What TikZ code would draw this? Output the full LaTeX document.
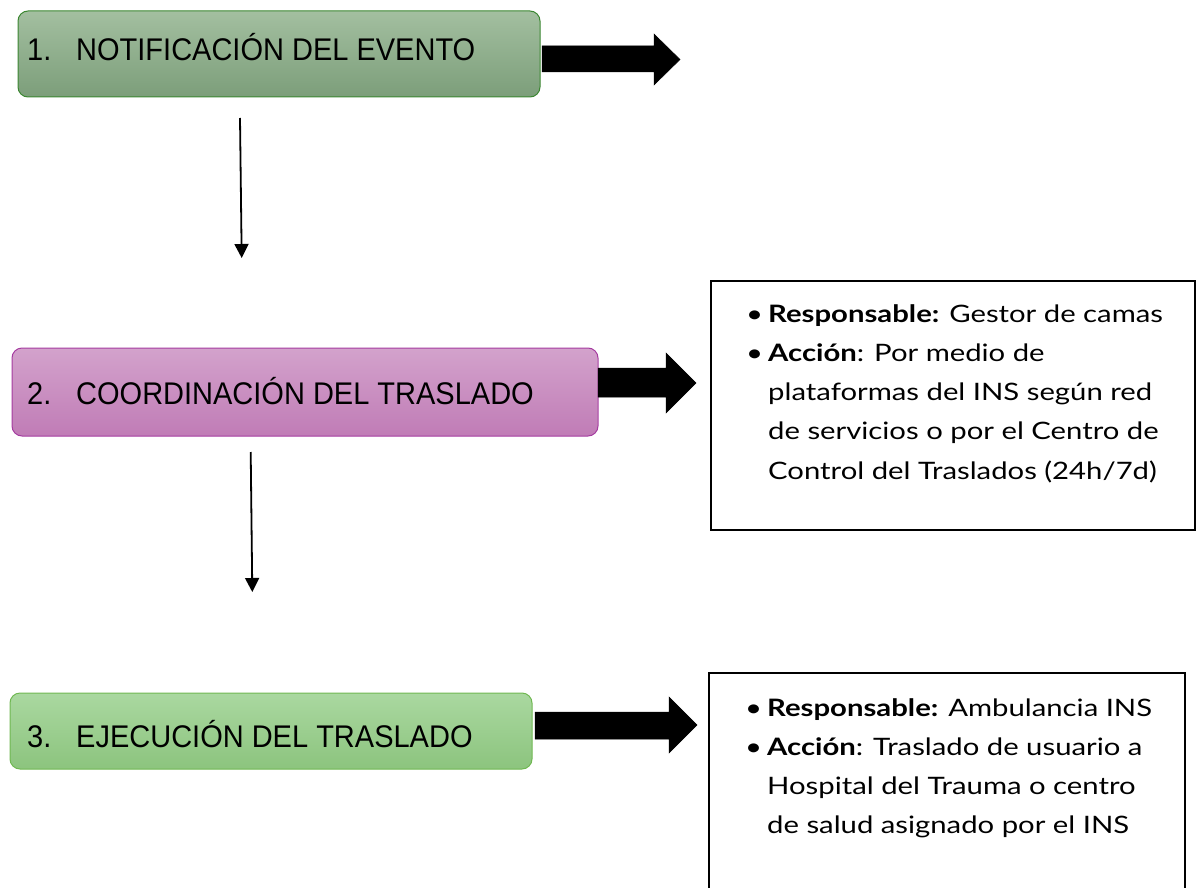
\documentclass[tikz,border=0pt]{standalone}
\usepackage{fontspec}
\setmainfont{Liberation Sans}
\newfontfamily\infofont[FakeStretch=1.22]{Lato}
\usetikzlibrary{arrows.meta}
\definecolor{gAtop}{RGB}{163,191,160}
\definecolor{gAbot}{RGB}{124,158,122}
\definecolor{gAbrd}{RGB}{60,135,50}
\definecolor{pBtop}{RGB}{211,162,204}
\definecolor{pBbot}{RGB}{192,124,182}
\definecolor{pBbrd}{RGB}{165,60,160}
\definecolor{gCtop}{RGB}{170,216,160}
\definecolor{gCbot}{RGB}{140,196,126}
\definecolor{gCbrd}{RGB}{112,184,82}
\tikzset{
  stagebox/.style={rounded corners=10pt, line width=1pt},
  stagetext/.style={anchor=base west, inner sep=0pt, yscale=1.08, transform shape, font=\fontsize{29}{34}\selectfont},
  blockarrow/.style={fill=black, draw=black, line width=0.5pt},
  flowarrow/.style={line width=1.8pt, -{Triangle[width=14pt,length=14pt]}},
  infobox/.style={draw=black, line width=1.5pt},
  infotext/.style={anchor=north west, inner sep=0pt, align=left,
    font=\infofont\fontsize{24}{39.25}\selectfont},
}
\newcommand{\bul}{\llap{\textbullet\hspace{5pt}}}
\begin{document}
\begin{tikzpicture}[x=1pt,y=-1pt]
\useasboundingbox (0,0) rectangle (1196,888);
% stage boxes
\draw[stagebox, draw=gAbrd, top color=gAtop, bottom color=gAbot] (18,11) rectangle (540,97);
\node[draw=none, minimum width=522pt, minimum height=86pt, anchor=north west, inner sep=0pt] (s1) at (18,11) {};
\draw[stagebox, draw=pBbrd, top color=pBtop, bottom color=pBbot] (12,348) rectangle (598,436);
\node[draw=none, minimum width=586pt, minimum height=88pt, anchor=north west, inner sep=0pt] (s2) at (12,348) {};
\draw[stagebox, draw=gCbrd, top color=gCtop, bottom color=gCbot] (10,693) rectangle (532,769);
\node[draw=none, minimum width=522pt, minimum height=76pt, anchor=north west, inner sep=0pt] (s3) at (10,693) {};
% stage texts
\node[stagetext] (n1) at (27,61) {1.};
\node[stagetext] (t1) at (76,61) {NOTIFICACIÓN DEL EVENTO};
\node[stagetext] (n2) at (27,404) {2.};
\node[stagetext] (t2) at (76,404) {COORDINACIÓN DEL TRASLADO};
\node[stagetext] (n3) at (27,747) {3.};
\node[stagetext] (t3) at (76,747) {EJECUCIÓN DEL TRASLADO};
% block arrows
\draw[blockarrow] (542,46) -- (654,46) -- (654,34) -- (680,59.5) -- (654,85) -- (654,72) -- (542,72) -- cycle;
\draw[blockarrow] (598,368) -- (666,368) -- (666,353) -- (696,383) -- (666,413) -- (666,397) -- (598,397) -- cycle;
\draw[blockarrow] (535,712) -- (669,712) -- (669,697) -- (697,725) -- (669,753) -- (669,739) -- (535,739) -- cycle;
% vertical arrows
\coordinate (a1s) at (240,118);
\coordinate (a1e) at (241.7,258);
\coordinate (a2s) at (250.7,452);
\coordinate (a2e) at (252.3,592);
\draw[flowarrow] (a1s) -- (a1e);
\draw[flowarrow] (a2s) -- (a2e);
% info boxes
\node[infobox, minimum width=484pt, minimum height=249pt, anchor=north west, inner sep=0pt] (i2) at (710,280) {};
\draw[infobox] (709,900) -- (709,673) -- (1185,673) -- (1185,900);
\coordinate (i3) at (709,673);
\node[infotext] (i2t) at (768,304) {\bul\textbf{Responsable:} Gestor de camas\\
\bul\textbf{Acción}: Por medio de\\
plataformas del INS según red\\
de servicios o por el Centro de\\
Control del Traslados (24h/7d)};
\node[infotext] (i3t) at (767,698) {\bul\textbf{Responsable:} Ambulancia INS\\
\bul\textbf{Acción}: Traslado de usuario a\\
Hospital del Trauma o centro\\
de salud asignado por el INS};
\end{tikzpicture}
\end{document}
